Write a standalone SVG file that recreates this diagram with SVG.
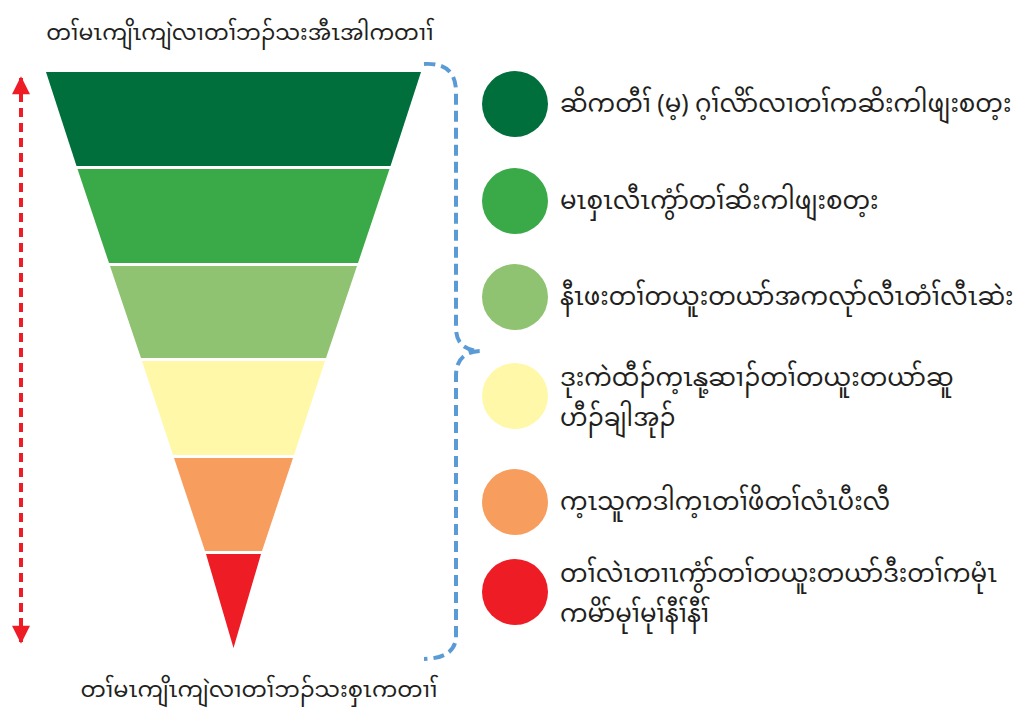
<svg xmlns="http://www.w3.org/2000/svg" width="1034" height="716" viewBox="0 0 1034 716">
<style>
text{font-family:"Noto Sans Myanmar","Padauk","Myanmar Text","Noto Sans","DejaVu Sans",sans-serif;fill:#231f20;}
.lbl{font-size:24.5px;}
.ttl{font-size:22px;}
.band{stroke:none;}
</style>
<defs>
<marker id="redHead" viewBox="0 0 10 10" refX="9" refY="5" markerWidth="5" markerHeight="4.5" orient="auto-start-reverse" markerUnits="strokeWidth">
<path d="M0,0 L10,5 L0,10 Z" fill="#ee1c25"/>
</marker>
</defs>
<rect width="1034" height="716" fill="#ffffff"/>
<g id="title-top"><text class="ttl" x="240" y="40" text-anchor="middle">တၢ်မၤကျိၤကျဲလၢတၢ်ဘၣ်သးအီၤအါကတၢၢ်</text></g>
<g id="title-bottom"><text class="ttl" x="259" y="697" text-anchor="middle" style="font-size:22.5px">တၢ်မၤကျိၤကျဲလၢတၢ်ဘၣ်သးစှၤကတၢၢ်</text></g>
<g id="funnel">
<g id="band1"><polygon class="band" points="46,72 421,72 390.5,166 76.5,166" fill="#006f3c"/></g>
<g id="band2"><polygon class="band" points="77.5,169 389.5,169 358,263 109,263" fill="#3aaa49"/></g>
<g id="band3"><polygon class="band" points="110,266 357,266 326,358 141,358" fill="#8fc271"/></g>
<g id="band4"><polygon class="band" points="142,361 325,361 294,455 173,455" fill="#fff8a8"/></g>
<g id="band5"><polygon class="band" points="174,458 293,458 262,551 205,551" fill="#f79e5e"/></g>
<g id="band6"><polygon class="band" points="206,554 261,554 233.5,648" fill="#ee1c25"/></g>
</g>
<g id="connectors">
<line id="range-arrow" x1="21" y1="642" x2="21" y2="78" stroke="#ee1c25" stroke-width="4" stroke-dasharray="9,6" marker-start="url(#redHead)" marker-end="url(#redHead)"/>
<path id="brace" d="M424,64 Q456,62 456,92 L456,328 Q456,350 480,351 Q456,352 456,376 L456,636 Q456,658 424,659" fill="none" stroke="#5b9bd5" stroke-width="4" stroke-dasharray="11,6"/>
</g>
<g id="legend1"><circle cx="515" cy="104" r="33" fill="#006f3c"/><text class="lbl" x="560" y="112">ဆိကတီၢ် (မ့) ဂ့ၢ်လိာ်လၢတၢ်ကဆိးကါဖျးစတ့း</text></g>
<g id="legend2"><circle cx="515" cy="201" r="33" fill="#3aaa49"/><text class="lbl" x="560" y="209">မၤစှၤလီၤကွံာ်တၢ်ဆိးကါဖျးစတ့း</text></g>
<g id="legend3"><circle cx="515" cy="297" r="33" fill="#8fc271"/><text class="lbl" x="560" y="305">နီၤဖးတၢ်တယူးတယာ်အကလုာ်လီၤတံၢ်လီၤဆဲး</text></g>
<g id="legend4"><circle cx="515" cy="396" r="33" fill="#fff8a8"/><text class="lbl" x="560" y="386">ဒုးကဲထီၣ်က့ၤနု့ဆၢၣ်တၢ်တယူးတယာ်ဆူ</text><text class="lbl" x="560" y="426">ဟီၣ်ချါအုၣ်</text></g>
<g id="legend5"><circle cx="515" cy="502" r="33" fill="#f79e5e"/><text class="lbl" x="560" y="510">က့ၤသူကဒါက့ၤတၢ်ဖိတၢ်လံၤပီးလီ</text></g>
<g id="legend6"><circle cx="515" cy="592" r="33" fill="#ee1c25"/><text class="lbl" x="560" y="582">တၢ်လဲၤတၢၤကွံာ်တၢ်တယူးတယာ်ဒီးတၢ်ကမုံၤ</text><text class="lbl" x="560" y="622">ကမိာ်မုၢ်မုၢ်နီၢ်နီၢ်</text></g>
</svg>
